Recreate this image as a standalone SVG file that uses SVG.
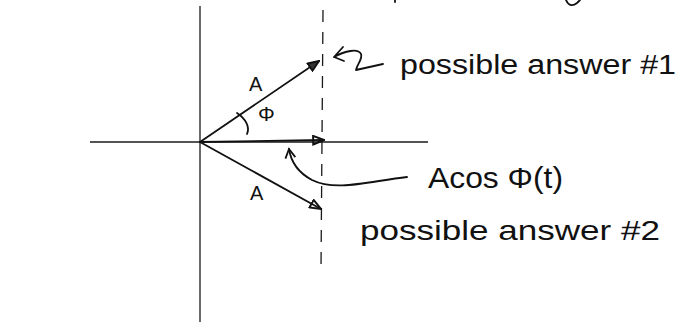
<svg xmlns="http://www.w3.org/2000/svg" width="678" height="326" viewBox="0 0 678 326">
<style>
.ink{fill:none;stroke:#111;stroke-width:1.8;stroke-linecap:round;stroke-linejoin:round}
.axis{fill:none;stroke:#1a1a1a;stroke-width:1.3}
.lbl{font-family:"Liberation Sans",Arial,sans-serif;fill:#111}
</style>
<defs>
<marker id="tri" viewBox="0 0 12 10" refX="11" refY="5" markerWidth="13" markerHeight="11" markerUnits="userSpaceOnUse" orient="auto">
<path d="M1,1 L11,5 L1,9 Z" fill="none" stroke="#111" stroke-width="1.8"/>
</marker>
<marker id="trif" viewBox="0 0 12 10" refX="11" refY="5" markerWidth="13" markerHeight="11" markerUnits="userSpaceOnUse" orient="auto">
<path d="M1,1 L11,5 L1,9 Z" fill="#333" stroke="#111" stroke-width="1.8"/>
</marker>
<marker id="vee" viewBox="0 0 12 12" refX="10" refY="6" markerWidth="12" markerHeight="12" markerUnits="userSpaceOnUse" orient="auto">
<path d="M1,1 L10,6 L1,11" fill="none" stroke="#111" stroke-width="1.8"/>
</marker>
</defs>
<rect width="678" height="326" fill="#fff"/>
<g id="axes">
<line class="axis" x1="200" y1="6" x2="200" y2="322"/>
<line class="axis" x1="90" y1="142" x2="428" y2="142"/>
<line class="axis" x1="323" y1="10" x2="321" y2="268" stroke-dasharray="12 10"/>
<path class="ink" d="M395,0 l0,2 M566,0 C568,5 572,7 577,3 C579,1 580,0 580,0"/>
</g>
<g id="connectors">
<line class="ink" x1="200" y1="142" x2="319" y2="61" marker-end="url(#trif)"/>
<line class="ink" x1="200" y1="142" x2="324" y2="140" stroke-width="3" marker-end="url(#tri)"/>
<line class="ink" x1="200" y1="142" x2="321" y2="209" marker-end="url(#tri)"/>
<path class="ink" d="M237,113 C246,119 250,127 247,134"/>
<path class="ink" d="M407,177 C370,181 336,192 312,180 C297,172 291,162 289,149" marker-end="url(#vee)"/>
<path class="ink" d="M343,47 L334,57 L344,61 M334,57 C345,51 358,48 361,54 C363,59 357,64 356,70 L383,64"/>
</g>
<g id="labels">
<text class="lbl" x="249" y="91" font-size="20">A</text>
<text class="lbl" x="258" y="121" font-size="21">Φ</text>
<text class="lbl" x="250" y="200" font-size="20">A</text>
<text class="lbl" x="400" y="74" font-size="27" textLength="276" lengthAdjust="spacingAndGlyphs">possible answer #1</text>
<text class="lbl" x="428" y="188" font-size="30" textLength="135" lengthAdjust="spacingAndGlyphs">Acos Φ(t)</text>
<text class="lbl" x="360" y="240" font-size="28" textLength="300" lengthAdjust="spacingAndGlyphs">possible answer #2</text>
</g>
</svg>
